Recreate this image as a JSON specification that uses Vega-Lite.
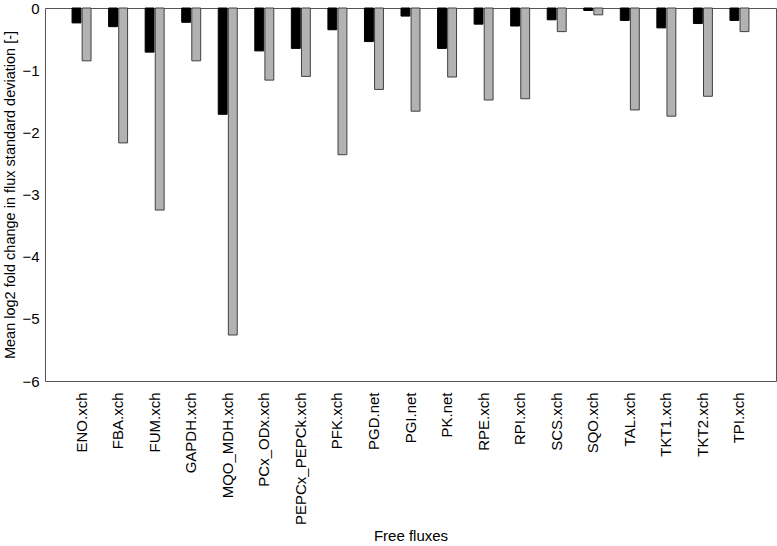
{
  "$schema": "https://vega.github.io/schema/vega-lite/v6.json",
  "width": 731,
  "height": 373,
  "autosize": "none",
  "padding": {"left": 45, "top": 8, "right": 1, "bottom": 165},
  "config": {
    "font": "Liberation Sans",
    "view": {"stroke": "#555555", "strokeWidth": 1}
  },
  "data": {
    "values": [
      {"flux": "ENO.xch", "series": "A", "value": -0.24},
      {"flux": "ENO.xch", "series": "B", "value": -0.85},
      {"flux": "FBA.xch", "series": "A", "value": -0.30},
      {"flux": "FBA.xch", "series": "B", "value": -2.17},
      {"flux": "FUM.xch", "series": "A", "value": -0.71},
      {"flux": "FUM.xch", "series": "B", "value": -3.25},
      {"flux": "GAPDH.xch", "series": "A", "value": -0.23},
      {"flux": "GAPDH.xch", "series": "B", "value": -0.85},
      {"flux": "MQO_MDH.xch", "series": "A", "value": -1.71},
      {"flux": "MQO_MDH.xch", "series": "B", "value": -5.26},
      {"flux": "PCx_ODx.xch", "series": "A", "value": -0.69},
      {"flux": "PCx_ODx.xch", "series": "B", "value": -1.16},
      {"flux": "PEPCx_PEPCk.xch", "series": "A", "value": -0.65},
      {"flux": "PEPCx_PEPCk.xch", "series": "B", "value": -1.10},
      {"flux": "PFK.xch", "series": "A", "value": -0.35},
      {"flux": "PFK.xch", "series": "B", "value": -2.36},
      {"flux": "PGD.net", "series": "A", "value": -0.54},
      {"flux": "PGD.net", "series": "B", "value": -1.31},
      {"flux": "PGI.net", "series": "A", "value": -0.13},
      {"flux": "PGI.net", "series": "B", "value": -1.66},
      {"flux": "PK.net", "series": "A", "value": -0.65},
      {"flux": "PK.net", "series": "B", "value": -1.11},
      {"flux": "RPE.xch", "series": "A", "value": -0.26},
      {"flux": "RPE.xch", "series": "B", "value": -1.48},
      {"flux": "RPI.xch", "series": "A", "value": -0.29},
      {"flux": "RPI.xch", "series": "B", "value": -1.46},
      {"flux": "SCS.xch", "series": "A", "value": -0.19},
      {"flux": "SCS.xch", "series": "B", "value": -0.38},
      {"flux": "SQO.xch", "series": "A", "value": -0.04},
      {"flux": "SQO.xch", "series": "B", "value": -0.11},
      {"flux": "TAL.xch", "series": "A", "value": -0.20},
      {"flux": "TAL.xch", "series": "B", "value": -1.64},
      {"flux": "TKT1.xch", "series": "A", "value": -0.32},
      {"flux": "TKT1.xch", "series": "B", "value": -1.74},
      {"flux": "TKT2.xch", "series": "A", "value": -0.25},
      {"flux": "TKT2.xch", "series": "B", "value": -1.42},
      {"flux": "TPI.xch", "series": "A", "value": -0.20},
      {"flux": "TPI.xch", "series": "B", "value": -0.38}
    ]
  },
  "mark": {"type": "bar", "strokeWidth": 1},
  "encoding": {
    "x": {
      "field": "flux",
      "type": "nominal",
      "sort": null,
      "scale": {"paddingInner": 0, "paddingOuter": 0.5},
      "axis": {
        "title": "Free fluxes",
        "titleFontSize": 15,
        "titleFontWeight": "normal",
        "titleColor": "#000",
        "titlePadding": 4,
        "labelAngle": -90,
        "labelFontSize": 15,
        "labelColor": "#000",
        "labelPadding": 11,
        "ticks": false,
        "domain": false
      }
    },
    "xOffset": {
      "field": "series",
      "type": "nominal",
      "scale": {"paddingInner": 0.12, "paddingOuter": 0.87}
    },
    "y": {
      "field": "value",
      "type": "quantitative",
      "scale": {"domain": [-6, 0], "nice": false, "zero": false},
      "axis": {
        "title": "Mean log2 fold change in flux standard deviation [-]",
        "titleFontSize": 14.5,
        "titleFontWeight": "normal",
        "titleColor": "#000",
        "titlePadding": 4,
        "values": [-6, -5, -4, -3, -2, -1, 0],
        "labelFontSize": 15,
        "labelColor": "#000",
        "labelPadding": 6,
        "ticks": false,
        "domain": false,
        "grid": false
      }
    },
    "y2": {"datum": 0},
    "color": {
      "field": "series",
      "type": "nominal",
      "scale": {"domain": ["A", "B"], "range": ["#000000", "#b2b2b2"]},
      "legend": null
    },
    "stroke": {
      "field": "series",
      "type": "nominal",
      "scale": {"domain": ["A", "B"], "range": ["#000000", "#404040"]},
      "legend": null
    }
  }
}
